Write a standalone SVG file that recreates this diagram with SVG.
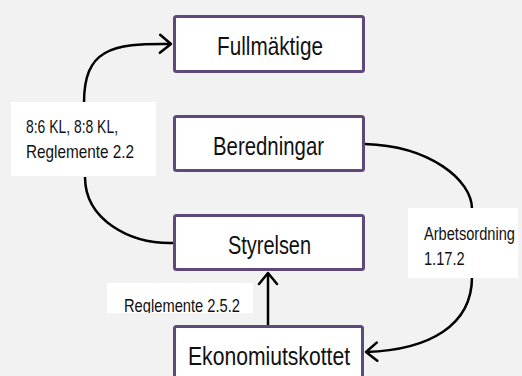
<svg xmlns="http://www.w3.org/2000/svg" width="522" height="376" viewBox="0 0 522 376">
<style>
.box{fill:#ffffff;stroke:#5F497A;stroke-width:3;}
.bt{font-family:"Liberation Sans",Arial,sans-serif;font-size:25px;fill:#111111;text-anchor:middle;}
.lb{fill:#ffffff;}
.lt{font-family:"Liberation Sans",Arial,sans-serif;font-size:18.5px;fill:#111111;}
.con{fill:none;stroke:#000000;stroke-width:2.5;}
</style>
<defs>
<marker id="arr" markerUnits="userSpaceOnUse" viewBox="-14 -11 16 22" refX="0" refY="0" markerWidth="16" markerHeight="22" orient="auto">
<path d="M-11,-9 L0,0 L-11,9" fill="none" stroke="#000000" stroke-width="2.5" stroke-linecap="round" stroke-linejoin="round"/>
</marker>
<clipPath id="clipR"><rect x="107" y="283" width="146" height="30"/></clipPath>
</defs>
<rect x="0" y="0" width="522" height="376" fill="#f2f2f2"/>
<g id="connectors">
<path class="con" d="M173,243 C130,244 85,220 85,177 M84,103 C84,50 110,43 171,44" marker-end="url(#arr)"/>
<path class="con" d="M365,144 C430,146 472,180 472,209 M472,277 C472,325 430,350 366,352" marker-end="url(#arr)"/>
<path class="con" d="M268,325 L268,273" marker-end="url(#arr)"/>
</g>
<g id="fullmaktige">
<rect class="box" x="174.5" y="16.5" width="189" height="55" rx="2"/>
<text class="bt" x="270" y="55" textLength="106" lengthAdjust="spacingAndGlyphs">Fullmäktige</text>
</g>
<g id="beredningar">
<rect class="box" x="174.5" y="116.5" width="189" height="54" rx="2"/>
<text class="bt" x="268.5" y="155" textLength="111" lengthAdjust="spacingAndGlyphs">Beredningar</text>
</g>
<g id="styrelsen">
<rect class="box" x="174.5" y="215.5" width="189" height="54" rx="2"/>
<text class="bt" x="269.5" y="254" textLength="83" lengthAdjust="spacingAndGlyphs">Styrelsen</text>
</g>
<g id="ekonomiutskottet">
<rect class="box" x="174.5" y="326.5" width="188" height="60" rx="2"/>
<text class="bt" x="269" y="365" textLength="162" lengthAdjust="spacingAndGlyphs">Ekonomiutskottet</text>
</g>
<g id="label-kl">
<rect class="lb" x="11" y="102" width="145" height="74"/>
<text class="lt" x="26" y="133" textLength="92" lengthAdjust="spacingAndGlyphs">8:6 KL, 8:8 KL,</text>
<text class="lt" x="26" y="158" textLength="108" lengthAdjust="spacingAndGlyphs">Reglemente 2.2</text>
</g>
<g id="label-arbetsordning">
<rect class="lb" x="408" y="208" width="110" height="70"/>
<text class="lt" transform="translate(424,240) scale(0.79,1)">Arbetsordning</text>
<text class="lt" transform="translate(424,265) scale(0.79,1)">1.17.2</text>
</g>
<g id="label-reglemente">
<rect class="lb" x="107" y="283" width="146" height="30"/>
<text class="lt" x="124" y="312" textLength="116" lengthAdjust="spacingAndGlyphs" clip-path="url(#clipR)">Reglemente 2.5.2</text>
</g>
</svg>
